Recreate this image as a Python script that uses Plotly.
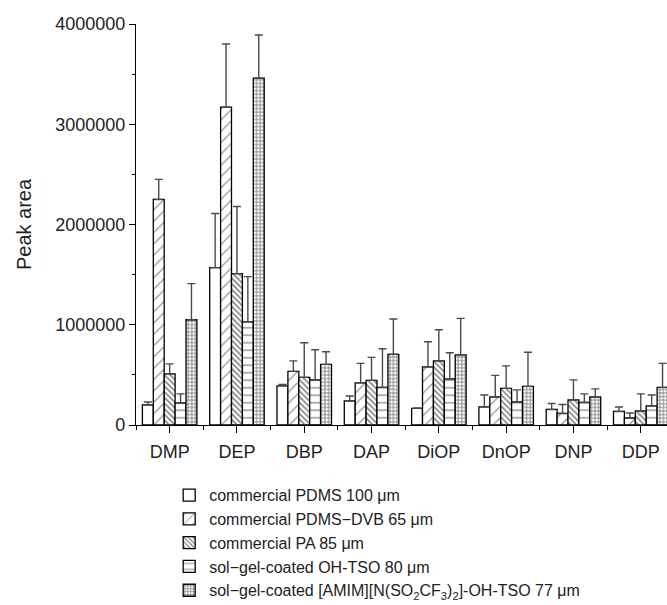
import plotly.graph_objects as go

categories = ["DMP", "DEP", "DBP", "DAP", "DiOP", "DnOP", "DNP", "DDP"]

series_names = [
    "commercial PDMS 100 μm",
    "commercial PDMS−DVB 65 μm",
    "commercial PA 85 μm",
    "sol−gel-coated OH-TSO 80 μm",
    "sol−gel-coated [AMIM][N(SO<sub>2</sub>CF<sub>3</sub>)<sub>2</sub>]-OH-TSO 77 μm",
]

pdms_100 = [200000, 1570000, 390000, 240000, 166000, 180000, 155000, 135000]
pdms_100_err = [30000, 540000, 15000, 50000, 5000, 120000, 60000, 45000]

pdms_dvb_65 = [2250000, 3170000, 535000, 420000, 580000, 280000, 115000, 70000]
pdms_dvb_65_err = [200000, 630000, 105000, 195000, 250000, 215000, 90000, 50000]

pa_85 = [510000, 1510000, 475000, 445000, 640000, 365000, 250000, 140000]
pa_85_err = [100000, 670000, 345000, 230000, 310000, 225000, 200000, 170000]

oh_tso_80 = [220000, 1030000, 450000, 375000, 460000, 230000, 225000, 190000]
oh_tso_80_err = [90000, 450000, 300000, 385000, 260000, 120000, 85000, 110000]

amim_tso_77 = [1050000, 3460000, 605000, 705000, 700000, 385000, 280000, 375000]
amim_tso_77_err = [360000, 430000, 125000, 352000, 364000, 340000, 80000, 240000]

y_ticks = [0, 1000000, 2000000, 3000000, 4000000]

values = [pdms_100, pdms_dvb_65, pa_85, oh_tso_80, amim_tso_77]
errors = [pdms_100_err, pdms_dvb_65_err, pa_85_err, oh_tso_80_err, amim_tso_77_err]

patterns = [
    dict(shape=""),
    dict(shape="/", size=8, solidity=0.14, fgcolor="black", bgcolor="white"),
    dict(shape="\\", size=4, solidity=0.38, fgcolor="black", bgcolor="white"),
    dict(shape="-", size=7.5, solidity=0.16, fgcolor="black", bgcolor="white"),
    dict(shape="+", size=3.6, solidity=0.45, fgcolor="black", bgcolor="white"),
]

x_idx = list(range(len(categories)))

fig = go.Figure()
for name, vals, errs, pat in zip(series_names, values, errors, patterns):
    fig.add_trace(go.Bar(
        x=x_idx,
        y=vals,
        name=name,
        marker=dict(color="white", line=dict(color="black", width=1.3), pattern=pat),
        error_y=dict(type="data", symmetric=False, array=errs,
                     arrayminus=[0] * len(errs), color="#4a4a4a",
                     thickness=1.4, width=4),
    ))

font_family = "Liberation Sans, Arial, sans-serif"

fig.update_layout(
    width=667,
    height=605,
    margin=dict(l=136, r=0, t=24, b=180, autoexpand=False),
    paper_bgcolor="white",
    plot_bgcolor="white",
    barmode="group",
    bargap=0.19,
    bargroupgap=0,
    font=dict(family=font_family, size=18, color="#222222"),
    showlegend=True,
    legend=dict(
        x=0.0625, y=-0.1325, xanchor="left", yanchor="top",
        font=dict(family=font_family, size=16, color="#222222"),
        bgcolor="rgba(0,0,0,0)", traceorder="normal",
        tracegroupgap=0,
    ),
    xaxis=dict(
        range=[-0.5, 7.39],
        tickmode="array",
        tickvals=x_idx,
        ticktext=categories,
        ticks="outside", ticklen=7, tickwidth=1.3, tickcolor="black",
        minor=dict(ticks="outside", ticklen=4, tickwidth=1.3, tickcolor="black",
                   tick0=0.5, dtick=1),
        showline=True, linecolor="black", linewidth=1.3,
        showgrid=False, zeroline=False,
        tickfont=dict(size=18),
        ticklabelstandoff=3,
    ),
    yaxis=dict(
        range=[0, 4000000],
        tickmode="array",
        tickvals=y_ticks,
        ticktext=[str(v) for v in y_ticks],
        ticks="outside", ticklen=6, tickwidth=1.3, tickcolor="black",
        minor=dict(ticks="outside", ticklen=3, tickwidth=1.3, tickcolor="black",
                   tick0=0, dtick=500000),
        showline=True, linecolor="black", linewidth=1.3,
        showgrid=False, zeroline=False,
        tickfont=dict(size=18),
        title=dict(text="Peak area", font=dict(size=20), standoff=18),
    ),
)

fig.write_html(
    "out.html",
    config={"displayModeBar": False},
    post_script="document.body.style.margin='0';document.body.style.overflow='hidden';",
)
